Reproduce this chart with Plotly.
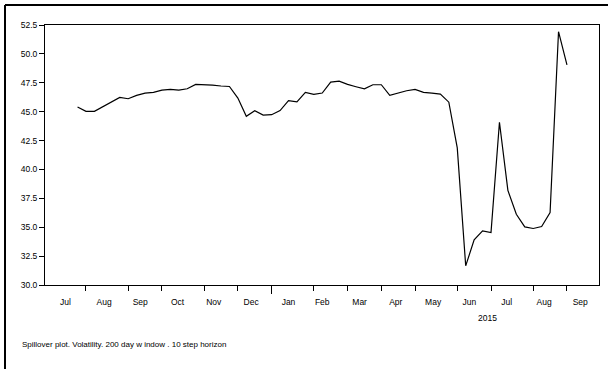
import datetime as dt
import plotly.graph_objects as go

# Weekly observations (Fridays), first on 2014-07-25
start_date = "2014-07-25"
values = [
    45.41, 45.03, 45.03, 45.43, 45.84, 46.23, 46.12, 46.41, 46.61, 46.67,
    46.87, 46.93, 46.87, 46.98, 47.36, 47.36, 47.30, 47.22, 47.18, 46.18,
    44.60, 45.09, 44.71, 44.74, 45.09, 45.95, 45.84, 46.67, 46.50, 46.61,
    47.56, 47.64, 47.36, 47.16, 46.97, 47.33, 47.33, 46.41, 46.61, 46.81,
    46.93, 46.67, 46.61, 46.52, 45.82, 41.87, 31.66, 33.90, 34.68, 34.54,
    44.08, 38.19, 36.12, 35.03, 34.89, 35.06, 36.27, 51.92, 49.05,
]

# first weekly observation of each month (tick marks)
month_ticks = ["2014-08-01", "2014-09-05", "2014-10-03", "2014-11-07", "2014-12-05",
               "2015-02-06", "2015-03-06", "2015-04-03", "2015-05-01", "2015-06-05",
               "2015-07-03", "2015-08-07", "2015-09-04"]
year_tick = ["2015-01-02"]

# month label positions (mid-month) and texts
label_dates = ["2014-07-15", "2014-08-16", "2014-09-15", "2014-10-16", "2014-11-15",
               "2014-12-16", "2015-01-16", "2015-02-13", "2015-03-16", "2015-04-15",
               "2015-05-16", "2015-06-15", "2015-07-16", "2015-08-16", "2015-09-15"]
label_text = ["Jul", "Aug", "Sep", "Oct", "Nov", "Dec", "Jan", "Feb", "Mar", "Apr",
              "May", "Jun", "Jul", "Aug", "Sep"]

y_ticks = [30.0, 32.5, 35.0, 37.5, 40.0, 42.5, 45.0, 47.5, 50.0, 52.5]
year_label = "2015"
caption = "Spillover plot. Volatility. 200 day w indow . 10 step horizon"

d0 = dt.date.fromisoformat(start_date)
dates = [(d0 + dt.timedelta(weeks=i)).isoformat() for i in range(len(values))]

FONT = "Liberation Sans Narrow, Arial Narrow, Liberation Sans, Arial, sans-serif"
x_range = ["2014-06-28", "2015-09-30 14:00"]

fig = go.Figure()
fig.add_trace(go.Scatter(x=dates, y=values, mode="lines",
                         line=dict(color="black", width=1.2),
                         showlegend=False, hoverinfo="x+y"))
# invisible copy to anchor the label axis
fig.add_trace(go.Scatter(x=dates, y=values, mode="lines", xaxis="x2",
                         line=dict(color="rgba(0,0,0,0)", width=0),
                         showlegend=False, hoverinfo="skip"))

fig.update_layout(
    width=608, height=369,
    margin=dict(l=45, r=9, t=25, b=84),
    paper_bgcolor="white", plot_bgcolor="white",
    font=dict(family=FONT, size=8.5, color="black"),
    xaxis=dict(
        type="date", range=x_range,
        tickmode="array", tickvals=year_tick, showticklabels=False,
        ticks="outside", ticklen=8, tickwidth=1, tickcolor="black",
        minor=dict(tickmode="array", tickvals=month_ticks, ticks="outside",
                   ticklen=5, tickwidth=1, tickcolor="black", showgrid=False),
        showgrid=False, zeroline=False,
        showline=True, linecolor="black", linewidth=1, mirror=True,
    ),
    xaxis2=dict(
        type="date", overlaying="x", matches="x", side="bottom", anchor="y",
        range=x_range,
        tickmode="array", tickvals=label_dates, ticktext=label_text,
        ticks="", showgrid=False, zeroline=False, showline=False,
        tickfont=dict(family=FONT, size=8.5, color="black"),
        ticklabelstandoff=10,
    ),
    yaxis=dict(
        range=[30, 52.5], tickmode="array", tickvals=y_ticks,
        tickformat=".1f", ticks="outside", ticklen=5, tickwidth=1, tickcolor="black",
        tickfont=dict(family=FONT, size=8.5, color="black"),
        showgrid=False, zeroline=False,
        showline=True, linecolor="black", linewidth=1, mirror=True,
    ),
    annotations=[
        dict(text=year_label, xref="x", yref="paper", x="2015-06-30", y=-0.125,
             xanchor="center", yanchor="middle", showarrow=False,
             font=dict(family=FONT, size=8.5, color="black")),
        dict(text=caption, xref="paper", yref="paper", x=-0.045, y=-0.228,
             xanchor="left", yanchor="middle", showarrow=False,
             font=dict(family=FONT, size=8, color="black")),
    ],
    shapes=[
        dict(type="line", xref="paper", yref="paper", x0=-0.0722, x1=1.02,
             y0=1.0768, y1=1.0768, line=dict(color="black", width=2)),
        dict(type="line", xref="paper", yref="paper", x0=-0.0722, x1=-0.0722,
             y0=1.0768, y1=-0.33, line=dict(color="black", width=2)),
    ],
)

fig.write_html("out.html")
